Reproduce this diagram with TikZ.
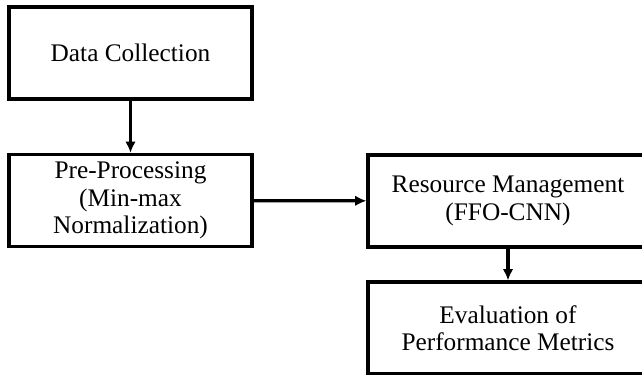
\documentclass[tikz,border=0pt]{standalone}
\usepackage{fontspec}
\setmainfont{Liberation Serif}
\usepackage{tikz}
\usetikzlibrary{%
	arrows.meta,%
	calc,%
	shapes
}

\tikzset{
	block/.style={draw, line width=2.3pt, align=center, inner sep=0pt,
		minimum width=243*0.025cm, minimum height=92*0.025cm,
		font=\fontsize{18}{19.5}\selectfont},
	wide/.style={block, minimum width=280*0.025cm}
}

\begin{document}
\begin{tikzpicture}[>={Latex[length=8pt,width=7.5pt]}, x=0.025cm, y=-0.025cm]
				% Frame
				\useasboundingbox (0,0) rectangle (642,374);
				\clip (0,0) rectangle (642,374);
				
				% Boxes
				\node[block] (collect) at (130.5,53) {Data Collection};
				\node[block] (preproc) at (130.5,200.5) {Pre-Processing\\(Min-max\\Normalization)};
				\node[wide] (resource) at (508,201) {Resource Management\\(FFO-CNN)};
				\node[wide] (evaluate) at (508,328) {Evaluation of\\Performance Metrics};
				
				% Arrows
				\draw[->, line width=2.3pt] (collect) -- (preproc);
				\draw[->, line width=2.3pt] (preproc) -- (resource);
				\draw[->, line width=2.3pt] (resource) -- (evaluate);
			\end{tikzpicture}
\end{document}
